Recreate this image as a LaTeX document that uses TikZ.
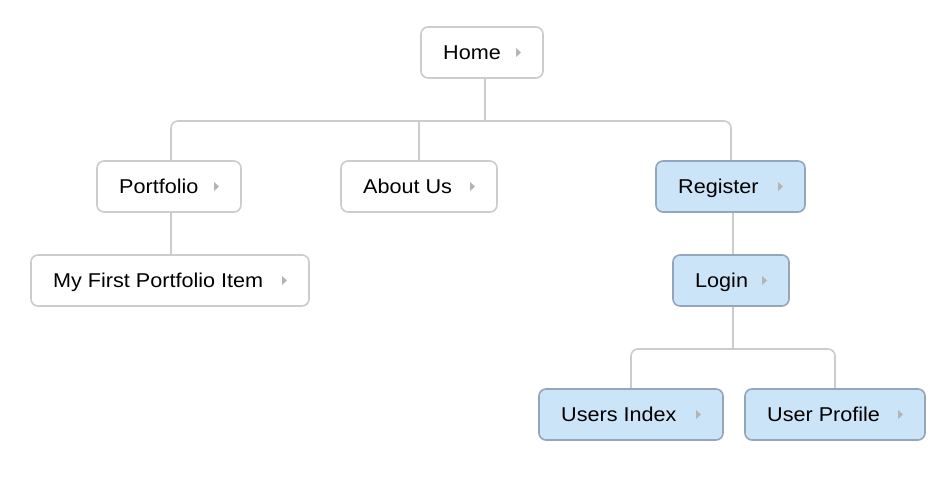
\documentclass[tikz,border=0pt]{standalone}
\usepackage{fontspec}
\setmainfont{Liberation Sans}[FakeStretch=1.08]
\definecolor{wborder}{HTML}{CCCCCC}
\definecolor{bfill}{HTML}{CCE4F7}
\definecolor{bborder}{HTML}{93A6BC}
\definecolor{tri}{HTML}{B4B4B4}
\definecolor{conn}{HTML}{CCCCCC}
\tikzset{
  pagebox/.style={draw=wborder, fill=white, line width=1.6pt, rounded corners=7pt, inner sep=0pt},
  bluebox/.style={pagebox, draw=bborder, fill=bfill},
  lbl/.style={anchor=base west, inner sep=0pt, font=\fontsize{20}{24}\selectfont},
  conline/.style={draw=conn, line width=1.6pt, rounded corners=7pt},
}
\newcommand{\pgnode}[7]{%
  \node[#7, minimum width={#4-#2}, minimum height={#5-#3}] (#1) at ({(#2+#4)/2},{(#3+#5)/2}) {};
  \node[lbl] (#1t) at ({#2+22},{(#3+#5)/2+7}) {#6};
  \fill[tri] ({#4-27},{(#3+#5)/2-4.5}) -- ({#4-22},{(#3+#5)/2}) -- ({#4-27},{(#3+#5)/2+4.5}) -- cycle;
}
\begin{document}
\begin{tikzpicture}[x=1pt,y=-1pt]
\useasboundingbox (0,0) rectangle (946,480);
% connectors first
\coordinate (hj) at (485,121);
\coordinate (lj) at (733,349);
\draw[conline] (485,78) -- (hj);
\draw[conline] (171,161) -- (171,121) -- (731,121) -- (731,161);
\draw[conline] (419,121) -- (419,161);
\draw[conline] (171,212) -- (171,255);
\draw[conline] (733,212) -- (733,255);
\draw[conline] (733,306) -- (lj);
\draw[conline] (631,389) -- (631,349) -- (835,349) -- (835,389);
% nodes
\pgnode{home}{421}{27}{543}{78}{Home}{pagebox}
\pgnode{portfolio}{97}{161}{241}{212}{Portfolio}{pagebox}
\pgnode{about}{341}{161}{497}{212}{About Us}{pagebox}
\pgnode{register}{656}{161}{805}{212}{Register}{bluebox}
\pgnode{first}{31}{255}{309}{306}{My First Portfolio Item}{pagebox}
\pgnode{login}{673}{255}{789}{306}{Login}{bluebox}
\pgnode{users}{539}{389}{723}{440}{Users Index}{bluebox}
\pgnode{profile}{745}{389}{925}{440}{User Profile}{bluebox}
\end{tikzpicture}
\end{document}
